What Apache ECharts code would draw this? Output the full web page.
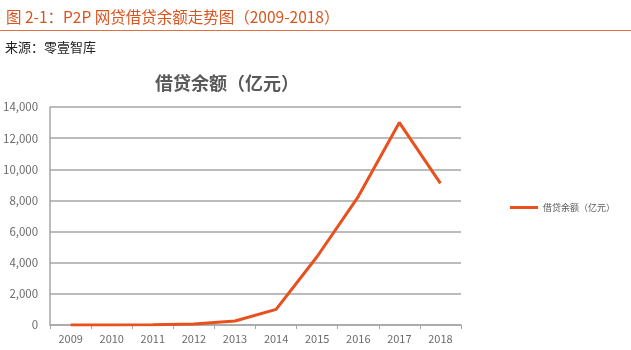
<!DOCTYPE html>
<html><head><meta charset="utf-8">
<script src="https://cdn.jsdelivr.net/npm/echarts@6/dist/echarts.min.js"></script>
<style>html,body{margin:0;padding:0;background:#fff}#c{width:631px;height:350px}</style>
</head><body><div id="c"></div>
<script>
var categories = ['2009','2010','2011','2012','2013','2014','2015','2016','2017','2018'];
var loanBalance = [3, 8, 14, 60, 260, 1000, 4400, 8250, 13000, 9100];
var seriesName = '借贷余额（亿元）';
var yTicks = {min: 0, max: 14000, interval: 2000};

var chart = echarts.init(document.getElementById('c'), null, {renderer: 'canvas'});
var font = '"Noto Sans CJK SC", "Liberation Sans", sans-serif';
chart.setOption({
  animation: false,
  backgroundColor: '#fff',
  title: [
    {text: '图 2-1：P2P 网贷借贷余额走势图（2009-2018）', left: 1, top: 4,
     textStyle: {color: '#d9541e', fontSize: 15.5, fontWeight: 'normal', fontFamily: font}},
    {text: '来源：零壹智库', left: 0, top: 36,
     textStyle: {color: '#222', fontSize: 13, fontWeight: 'normal', fontFamily: font}},
    {text: seriesName, left: 222, top: 69, textAlign: 'center',
     textStyle: {color: '#595959', fontSize: 18, fontWeight: 'bold', fontFamily: font}}
  ],
  graphic: [
    {type: 'line', shape: {x1: 0, y1: 30.5, x2: 631, y2: 30.5}, style: {stroke: '#e07040', lineWidth: 1}}
  ],
  legend: {
    data: [seriesName], left: 505, top: 198, itemWidth: 28, itemHeight: 3, itemGap: 4,
    icon: 'rect',
    textStyle: {color: '#595959', fontSize: 9, fontFamily: font}
  },
  grid: {left: 50, right: 170, top: 107, bottom: 25, containLabel: false},
  xAxis: {
    type: 'category', data: categories, boundaryGap: true,
    axisLine: {lineStyle: {color: '#a6a6a6', width: 1.5}},
    axisTick: {show: true, lineStyle: {color: '#a6a6a6'}, length: 4},
    axisLabel: {color: '#6b6b6b', fontSize: 11, margin: 8, fontFamily: font}
  },
  yAxis: {
    type: 'value', min: yTicks.min, max: yTicks.max, interval: yTicks.interval,
    axisLine: {show: true, lineStyle: {color: '#a6a6a6', width: 1.5}},
    axisTick: {show: false},
    axisLabel: {color: '#6b6b6b', fontSize: 11.5, margin: 12, fontFamily: font,
      formatter: function (v) { return v.toLocaleString('en-US'); }},
    splitLine: {lineStyle: {color: '#a6a6a6', width: 1.5}}
  },
  series: [{
    name: seriesName, type: 'line', data: loanBalance, showSymbol: false, symbol: 'none',
    lineStyle: {color: '#e8501e', width: 3}, itemStyle: {color: '#e8501e'}
  }]
});
</script></body></html>
